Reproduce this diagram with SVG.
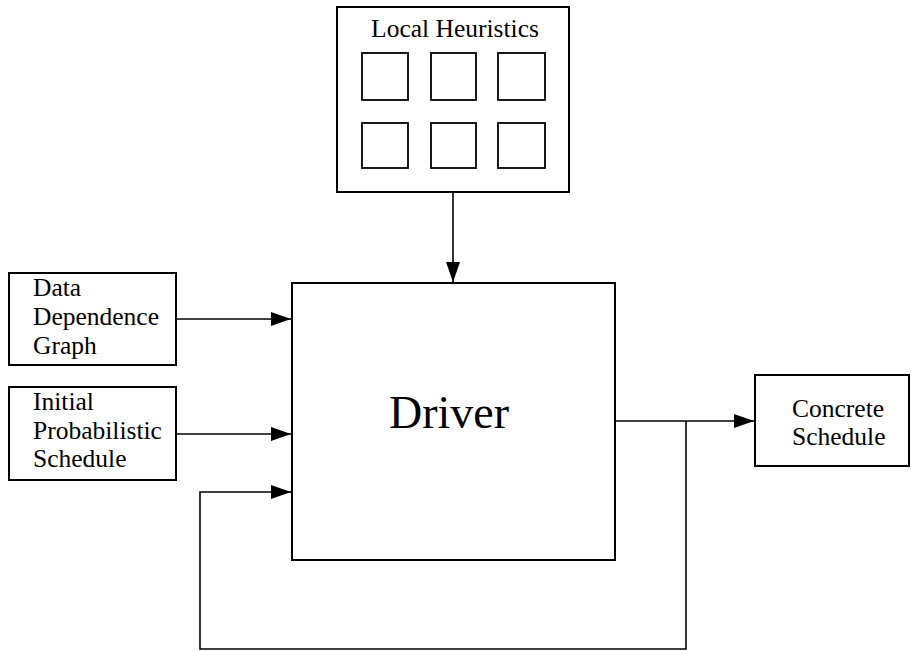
<svg xmlns="http://www.w3.org/2000/svg" width="911" height="651" viewBox="0 0 911 651">
<style>
.box{fill:#fff;stroke:#000;stroke-width:2}
.sq{fill:#fff;stroke:#000;stroke-width:1.8}
.ln{fill:none;stroke:#000;stroke-width:1.6}
.t{font-family:"Liberation Serif","Times New Roman",serif;font-size:25.5px;fill:#000}
.big{font-family:"Liberation Serif","Times New Roman",serif;font-size:46px;fill:#000}
</style>
<defs>
<marker id="ah" markerUnits="userSpaceOnUse" markerWidth="22" markerHeight="14" refX="20" refY="7" orient="auto">
<path d="M0,0 L20,7 L0,14 Z" fill="#000"/>
</marker>
</defs>
<rect width="911" height="651" fill="#fff"/>
<g id="connectors">
<path class="ln" d="M453,192 V282" marker-end="url(#ah)"/>
<path class="ln" d="M176,319 H291" marker-end="url(#ah)"/>
<path class="ln" d="M176,434 H291" marker-end="url(#ah)"/>
<path class="ln" d="M615,421 H754" marker-end="url(#ah)"/>
<path class="ln" d="M686,421 V649 H200 V492 H291" marker-end="url(#ah)"/>
</g>
<g id="local-heuristics">
<rect class="box" x="337" y="7" width="232" height="185"/>
<text class="t" x="455" y="37" text-anchor="middle">Local Heuristics</text>
<rect class="sq" x="362" y="53" width="46" height="47"/>
<rect class="sq" x="431" y="53" width="45" height="47"/>
<rect class="sq" x="498" y="53" width="47" height="47"/>
<rect class="sq" x="362" y="123" width="46" height="45"/>
<rect class="sq" x="431" y="123" width="45" height="45"/>
<rect class="sq" x="498" y="123" width="47" height="45"/>
</g>
<g id="driver">
<rect class="box" x="292" y="283" width="323" height="277"/>
<text class="big" x="449" y="428" text-anchor="middle">Driver</text>
</g>
<g id="data-dependence-graph">
<rect class="box" x="9" y="273" width="167" height="92"/>
<text class="t" x="33" y="296">Data</text>
<text class="t" x="33" y="325">Dependence</text>
<text class="t" x="33" y="354">Graph</text>
</g>
<g id="initial-probabilistic-schedule">
<rect class="box" x="9" y="387" width="167" height="93"/>
<text class="t" x="33" y="410">Initial</text>
<text class="t" x="33" y="439">Probabilistic</text>
<text class="t" x="33" y="467">Schedule</text>
</g>
<g id="concrete-schedule">
<rect class="box" x="755" y="375" width="154" height="91"/>
<text class="t" x="792" y="417">Concrete</text>
<text class="t" x="792" y="445">Schedule</text>
</g>
</svg>
